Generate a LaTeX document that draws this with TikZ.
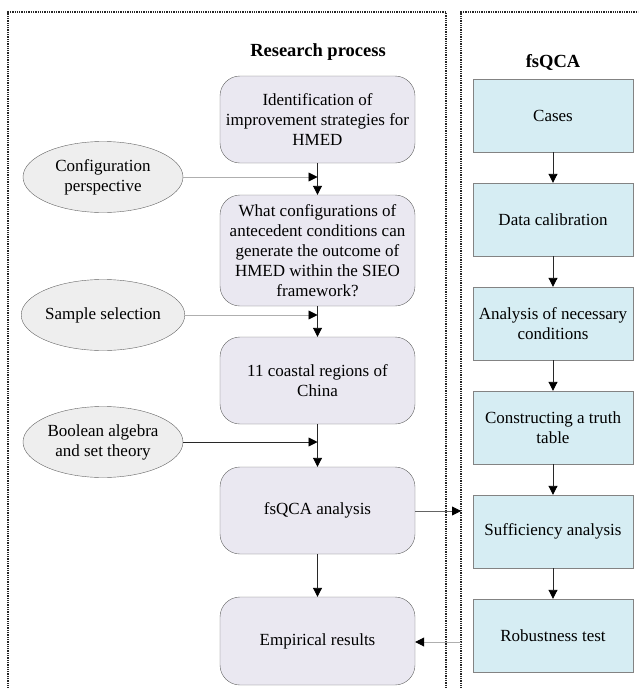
\documentclass[tikz,border=0pt]{standalone}
\usepackage{fontspec}
\setmainfont{Liberation Serif}
\usetikzlibrary{arrows.meta,shapes.geometric}
\definecolor{lavender}{RGB}{234, 232, 241}
\definecolor{lightcyan}{RGB}{214, 237, 243}
\definecolor{ovalgray}{RGB}{238, 238, 238}
\definecolor{edgegray}{RGB}{100, 100, 100}
\definecolor{linegray}{RGB}{175, 175, 175}
\definecolor{darkline}{RGB}{40, 40, 40}

\begin{document}
\begin{tikzpicture}[
        x=1pt, y=-1pt,
        font=\fontsize{17}{20}\selectfont,
        stage/.style={
            draw=edgegray,
            fill=lavender,
            rounded corners=20pt,
            minimum width=195pt,
            minimum height=87pt,
            align=center,
            inner sep=2pt
        },
        fsbox/.style={
            draw=edgegray!80,
            fill=lightcyan,
            minimum width=160pt,
            minimum height=73pt,
            align=center,
            inner sep=2pt
        },
        basis/.style={
            ellipse,
            draw=edgegray,
            fill=ovalgray,
            minimum width=160pt,
            minimum height=71pt,
            align=center,
            inner sep=0pt
        },
        title/.style={font=\fontsize{18.5}{20}\selectfont\bfseries},
        frame/.style={densely dotted, line width=1.3pt, black!85},
        flow/.style={-{Triangle[length=9pt,width=9pt,color=black]}, darkline, line width=0.9pt},
        feed/.style={-{Triangle[length=9pt,width=9pt,color=black]}, linegray, line width=0.9pt}
    ]
    \useasboundingbox (0,0) rectangle (638,688);
    \clip (0,0) rectangle (638,688);

    % frames
    \draw[frame] (8,700) -- (8,12) -- (446,12) -- (446,700);
    \draw[frame] (461,700) -- (461,12) -- (650,12);
    \coordinate (fsin) at (461,511);
    \coordinate (fsout) at (461,642);

    \node[title] (process) at (318,52) {Research process};
    \node[title] (fstitle) at (553,62) {fsQCA};

    % research process
    \node[stage] (ident) at (317.5,119.5) {Identification of\\improvement strategies for\\HMED};
    \node[stage, minimum height=111pt] (question) at (317.5,250.5) {What configurations of\\antecedent conditions can\\generate the outcome of\\HMED within the SIEO\\framework?};
    \node[stage] (coast) at (317.5,380.5) {11 coastal regions of\\China};
    \node[stage] (analysis) at (317.5,510.5) {fsQCA analysis};
    \node[stage, minimum height=88pt] (results) at (317.5,641) {Empirical results};

    \node[basis] (config) at (103,177) {Configuration\\perspective};
    \node[basis] (sample) at (103,315) {Sample selection};
    \node[basis] (boolean) at (103,442) {Boolean algebra\\and set theory};

    \draw[flow] (ident) -- (question);
    \draw[flow] (question) -- (coast);
    \draw[flow] (coast) -- (analysis);
    \draw[flow] (analysis) -- (results);
    \draw[feed] (config.east) -- (config.east -| ident.south);
    \draw[feed] (sample.east) -- (sample.east -| question.south);
    \draw[flow] (boolean.east) -- (boolean.east -| coast.south);
    \draw[flow, edgegray] (analysis.east |- fsin) -- (fsin);
    \draw[feed] (fsout) -- (fsout -| results.east);

    % fsQCA steps
    \node[fsbox] (cases) at (553,115.5) {Cases};
    \node[fsbox] (calib) at (553,219.5) {Data calibration};
    \node[fsbox] (necess) at (553,323.5) {Analysis of necessary\\conditions};
    \node[fsbox] (truth) at (553,427.5) {Constructing a truth\\table};
    \node[fsbox] (suffic) at (553,531.5) {Sufficiency analysis};
    \node[fsbox] (robust) at (553,635.5) {Robustness test};

    \foreach \a/\b in {cases/calib, calib/necess, necess/truth, truth/suffic, suffic/robust}
        \draw[flow] (\a) -- (\b);
\end{tikzpicture}
\end{document}
